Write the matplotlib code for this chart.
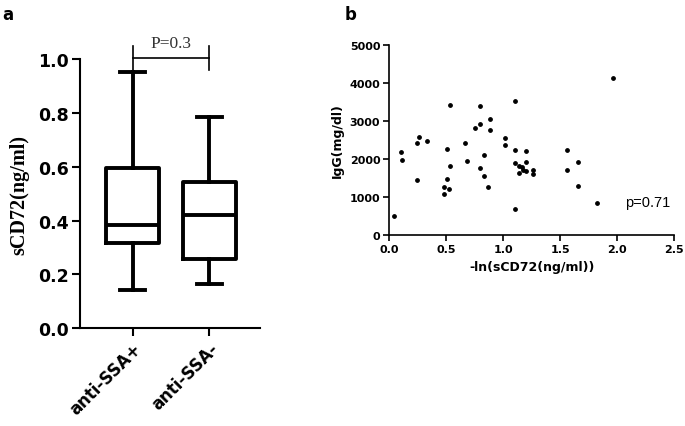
import matplotlib
matplotlib.use('Agg')
import matplotlib.pyplot as plt

# panel a: box plot summary (whiskers = min..max)
groups = ['anti-SSA+', 'anti-SSA-']
box_min = [0.143, 0.163]
box_q1 = [0.316, 0.256]
box_med = [0.385, 0.421]
box_q3 = [0.594, 0.542]
box_max = [0.954, 0.784]
p_box = 'P=0.3'

# panel b: scatter
ln_scd72 = [0.044, 0.105, 0.114, 0.246, 0.246, 0.257, 0.333, 0.482, 0.482,
            0.503, 0.503, 0.523, 0.535, 0.535, 0.664, 0.684, 0.754, 0.795,
            0.795, 0.795, 0.833, 0.833, 0.865, 0.883, 0.883, 1.015, 1.015,
            1.105, 1.103, 1.103, 1.105, 1.138, 1.138, 1.161, 1.175, 1.196,
            1.196, 1.199, 1.263, 1.263, 1.556, 1.556, 1.653, 1.653, 1.822,
            1.965]
igg = [516, 2185, 1976, 1460, 2430, 2587, 2474, 1093, 1276,
       1469, 2264, 1224, 1818, 3427, 2430, 1941, 2806, 2920,
       1757, 3392, 1547, 2115, 1267, 3051, 2753, 2545, 2369,
       3514, 2238, 1889, 682, 1826, 1634, 1784, 1721, 2219,
       1931, 1679, 1721, 1608, 2245, 1713, 1931, 1301, 848,
       4135]
p_scatter = 'p=0.71'

fig = plt.figure(figsize=(6.85, 4.27), dpi=100)

#----- panel a
ax1 = fig.add_axes([0.1168, 0.2295, 0.2628, 0.629])
stats = []
for i in range(len(groups)):
    stats.append(dict(whislo=box_min[i], q1=box_q1[i], med=box_med[i],
                      q3=box_q3[i], whishi=box_max[i], fliers=[]))
lw = 2.8
ax1.bxp(stats, positions=[0, 1], widths=0.69, showfliers=False,
        boxprops=dict(lw=lw, color='black'),
        medianprops=dict(lw=lw, color='black'),
        whiskerprops=dict(lw=lw, color='black'),
        capprops=dict(lw=lw, color='black'), capwidths=0.33)
ax1.set_xlim(-0.688, 1.662)
ax1.set_ylim(0, 1.0)
ax1.set_yticks([0.0, 0.2, 0.4, 0.6, 0.8, 1.0])
ax1.set_yticklabels(['0.0', '0.2', '0.4', '0.6', '0.8', '1.0'])
ax1.set_xticks([0, 1])
ax1.set_xticklabels(groups, rotation=45, ha='right', rotation_mode='anchor')
ax1.spines['top'].set_visible(False)
ax1.spines['right'].set_visible(False)
ax1.spines['left'].set_linewidth(1.5)
ax1.spines['bottom'].set_linewidth(1.5)
ax1.tick_params(axis='both', direction='out', length=6, width=1.5, pad=2)
for lab in ax1.get_yticklabels():
    lab.set_fontsize(12.5)
    lab.set_fontweight('bold')
for lab in ax1.get_xticklabels():
    lab.set_fontsize(12)
    lab.set_fontweight('bold')
ax1.set_ylabel('sCD72(ng/ml)', family='Liberation Serif', fontweight='bold',
               fontsize=14.5, labelpad=6)
#significance bracket
ax1.plot([0, 1], [1.005, 1.005], color='black', lw=1.2, clip_on=False)
ax1.plot([0, 0], [0.961, 1.05], color='black', lw=1.2, clip_on=False)
ax1.plot([1, 1], [0.961, 1.05], color='black', lw=1.2, clip_on=False)
ax1.text(0.5, 1.03, p_box, family='Liberation Serif', fontsize=12.5,
         color='#333333', ha='center', va='bottom')

#----- panel b
ax2 = fig.add_axes([0.5683, 0.4466, 0.416, 0.4464])
ax2.scatter(ln_scd72, igg, s=6, color='black', zorder=3)
ax2.set_xlim(0, 2.5)
ax2.set_ylim(0, 5000)
ax2.set_xticks([0.0, 0.5, 1.0, 1.5, 2.0, 2.5])
ax2.set_xticklabels(['0.0', '0.5', '1.0', '1.5', '2.0', '2.5'])
ax2.set_yticks([0, 1000, 2000, 3000, 4000, 5000])
ax2.spines['top'].set_visible(False)
ax2.spines['right'].set_visible(False)
ax2.spines['left'].set_linewidth(1.2)
ax2.spines['bottom'].set_linewidth(1.2)
ax2.tick_params(axis='both', direction='out', length=4.5, width=1.2, pad=2)
for lab in ax2.get_xticklabels() + ax2.get_yticklabels():
    lab.set_fontsize(8)
    lab.set_fontweight('bold')
ax2.set_xlabel('-ln(sCD72(ng/ml))', fontsize=9, fontweight='bold', labelpad=4)
ax2.set_ylabel('IgG(mg/dl)', fontsize=9, fontweight='bold', labelpad=4)
ax2.text(2.07, 700, p_scatter, family='Liberation Sans', fontsize=10.5,
         ha='left', va='bottom')

fig.text(0.003, 0.985, 'a', fontsize=12, fontweight='bold', va='top')
fig.text(0.503, 0.985, 'b', fontsize=12, fontweight='bold', va='top')

fig.savefig('out.png', dpi=100)
